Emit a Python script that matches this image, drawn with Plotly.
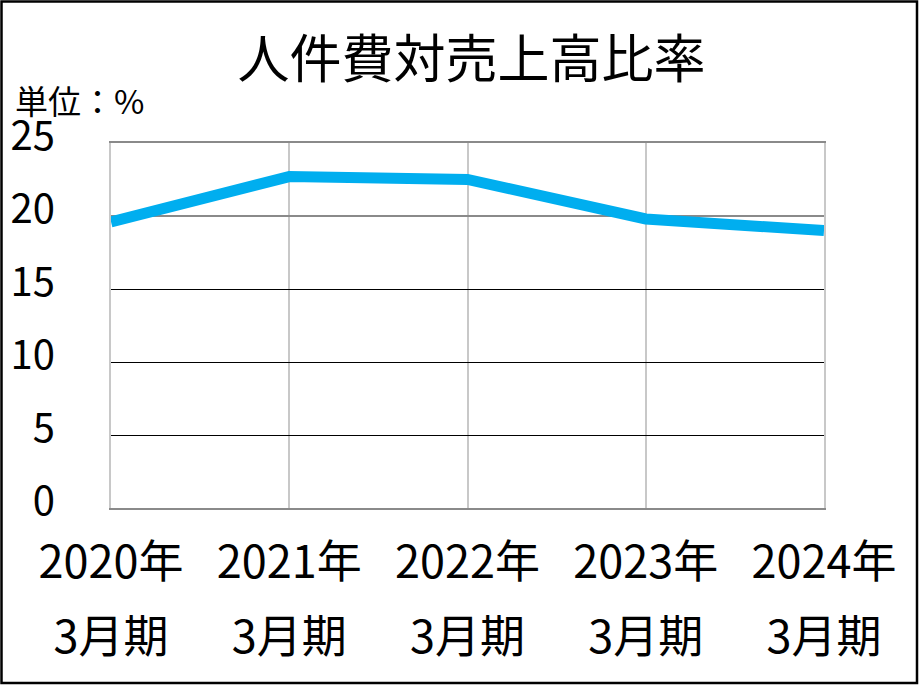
import plotly.graph_objects as go

# ---- data ----
years = ["2020年", "2021年", "2022年", "2023年", "2024年"]
periods = ["3月期", "3月期", "3月期", "3月期", "3月期"]
ratio = [19.6, 22.7, 22.5, 19.8, 19.0]
y_ticks = [0, 5, 10, 15, 20, 25]
black_grid = [5, 10, 15]
gray_grid = [20]

FONT = "Noto Sans CJK JP"
W, H = 921, 685
ML, MR, MT, MB = 111, 97, 143, 177
PW, PH = W - ML - MR, H - MT - MB

xs = list(range(len(years)))

fig = go.Figure()
# helper invisible traces so the overlay axes are drawn
for ya in ["y2", "y3"]:
    fig.add_trace(go.Scatter(x=xs, y=ratio, yaxis=ya, mode="lines",
                             line=dict(width=0), showlegend=False, hoverinfo="skip"))
fig.add_trace(go.Scatter(x=xs, y=ratio, xaxis="x2", mode="lines",
                         line=dict(width=0), showlegend=False, hoverinfo="skip"))
fig.add_trace(go.Scatter(
    x=xs, y=ratio, mode="lines",
    line=dict(color="#00AEEF", width=11),
    hoverinfo="skip", showlegend=False,
))

# outer frame
shapes = [dict(type="rect", xref="paper", yref="paper",
               x0=(1.5 - ML) / PW, x1=(W - 4 - ML) / PW,
               y0=-(H - 2 - MT - PH) / PH, y1=(MT - 1.5) / PH + 1,
               line=dict(color="#000000", width=2.5), fillcolor="rgba(0,0,0,0)")]

common_y = dict(range=[0, 25], overlaying="y", showticklabels=False, ticks="",
                showline=False, zeroline=False, automargin=False, fixedrange=True)

fig.update_layout(
    width=W, height=H,
    margin=dict(l=ML, r=MR, t=MT, b=MB, autoexpand=False),
    paper_bgcolor="white", plot_bgcolor="white",
    font=dict(family=FONT, color="#000000"),
    title=dict(text="人件費対売上高比率", x=0.512, xanchor="center", y=0.912, yanchor="middle",
               font=dict(size=52, family=FONT, color="#000000")),
    shapes=shapes,
    annotations=[dict(text="単位：%", xref="paper", yref="paper",
                      x=(13 - ML) / PW, y=(MT - 100) / PH + 1, xanchor="left", yanchor="middle",
                      showarrow=False, font=dict(size=33, family=FONT, color="#000000"))],
    xaxis=dict(range=[0, len(years) - 1], tickvals=xs, ticktext=years,
               showgrid=True, gridcolor="#c8c8c8", gridwidth=2,
               showline=True, mirror=True, linecolor="#8a8a8a", linewidth=2,
               ticks="", ticklabelstandoff=14, automargin=False,
               tickfont=dict(size=45, family=FONT, color="#000000"), fixedrange=True),
    xaxis2=dict(range=[0, len(years) - 1], tickvals=xs, ticktext=periods,
                overlaying="x", side="bottom", showgrid=False, showline=False,
                ticks="", ticklabelstandoff=99, automargin=False,
                tickfont=dict(size=45, family=FONT, color="#000000"), fixedrange=True),
    yaxis=dict(range=[0, 25], tickvals=y_ticks, showgrid=False,
               showline=True, mirror=True, linecolor="#c8c8c8", linewidth=2,
               zeroline=False, ticks="", ticklabelstandoff=46, ticklabelshift=-7,
               automargin=False,
               tickfont=dict(size=40, family=FONT, color="#000000"), fixedrange=True),
    yaxis2=dict(tickvals=black_grid, showgrid=True, gridcolor="#000000", gridwidth=1, **common_y),
    yaxis3=dict(tickvals=gray_grid, showgrid=True, gridcolor="#8a8a8a", gridwidth=1.5, **common_y),
)

fig.write_html("out.html")
